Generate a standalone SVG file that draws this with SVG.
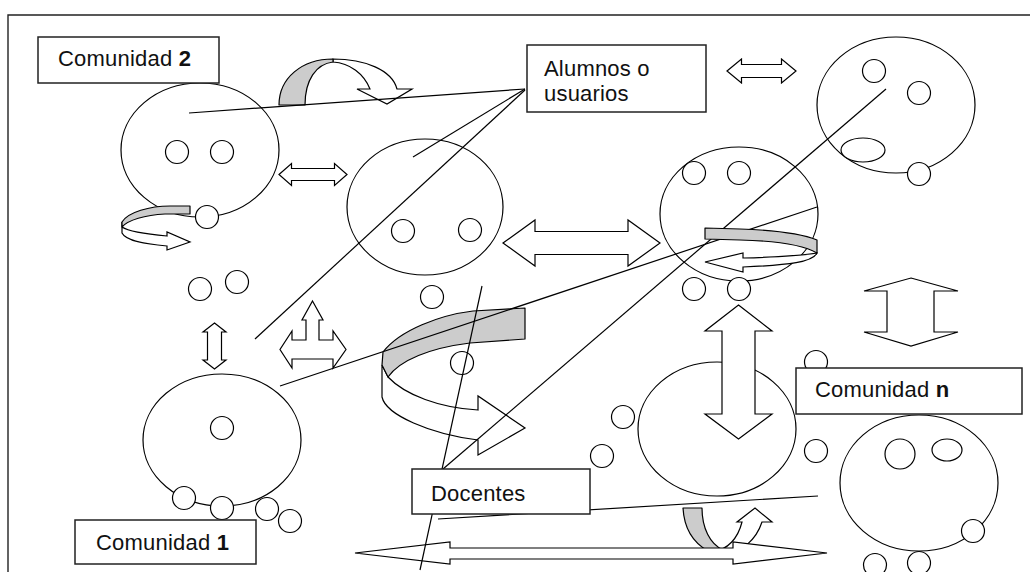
<svg xmlns="http://www.w3.org/2000/svg" width="1030" height="572" viewBox="0 0 1030 572">
  <style>
    .frame { stroke: #222; stroke-width: 1.4; fill: none; }
    .sh { fill: #fff; stroke: #000; stroke-width: 1.2; }
    .gr { fill: #ccc; stroke: #000; stroke-width: 1.2; stroke-linejoin: round; }
    .ln { stroke: #000; stroke-width: 1.2; fill: none; }
    .box { fill: #fff; stroke: #222; stroke-width: 1.5; }
    .lbl { font-family: "Liberation Sans", Arial, sans-serif; font-size: 22px; fill: #111; letter-spacing: 0.2px; }
  </style>
  <rect width="1030" height="572" fill="#fff"/>

  <!-- page frame -->
  <path class="frame" d="M8,572 L8,15 L1030,15"/>

  <!-- community circles -->
  <g id="comunidad-2-circle"><ellipse class="sh" cx="200" cy="150" rx="79" ry="67"/></g>
  <g id="grupo-centro-circle"><ellipse class="sh" cx="425" cy="207" rx="78" ry="68"/></g>
  <g id="grupo-derecha-circle"><ellipse class="sh" cx="739" cy="214" rx="79" ry="67"/></g>
  <g id="grupo-arriba-circle"><ellipse class="sh" cx="896" cy="105" rx="79" ry="68"/></g>
  <g id="comunidad-1-circle"><ellipse class="sh" cx="222" cy="440" rx="79" ry="66"/></g>
  <g id="comunidad-n-circle"><ellipse class="sh" cx="717" cy="429" rx="79" ry="67"/></g>
  <g id="grupo-abajo-circle"><ellipse class="sh" cx="919" cy="483" rx="79" ry="68"/></g>

  <!-- curved ribbon arrows -->
  <g id="curved-arrow-top">
    <path class="sh" d="M333,59 C365,59 392,70 397,89 L412,89 L387,104 L357,89 L370,89 C364,74 350,63 333,62 Z"/>
    <path class="gr" d="M279,105 C279,78 302,59 333,59 L333,62 C316,64 305,80 305,105 Z"/>
  </g>
  <g id="curved-arrow-left">
    <path class="sh" d="M122,222 L122,233 C126,241 145,244 167,246 L167,250 L190,242 L167,232 L167,236 C145,234 128,231 122,227 Z"/>
    <path class="gr" d="M190,206 L190,214 L165,214 C145,215 128,220 122,227 L122,222 C128,212 150,206 170,206 Z"/>
  </g>
  <g id="curved-arrow-center">
    <path class="sh" d="M382,365 L382,397 C386,415 430,434 478,440 L478,455 L525,428 L478,396 L478,410 C440,408 405,395 388,377 Z"/>
    <path class="gr" d="M525,308 L525,339 L470,343 C430,348 400,360 388,377 L382,365 L383,352 C400,330 440,315 473,311 Z"/>
  </g>
  <g id="curved-arrow-bottom">
    <path class="sh" d="M712,552 C728,550 738,538 742,522 L737,522 L755,508 L772,522 L762,522 C756,540 742,552 726,553 Z"/>
    <path class="gr" d="M683,508 L702,508 C702,528 710,544 723,550 L708,551 C692,542 684,526 683,508 Z"/>
  </g>

  <!-- block arrows -->
  <g id="arrow-c2-centro"><path class="sh" d="M279,174.5 L291.5,163.5 L291.5,168.5 L334.5,168.5 L334.5,163.5 L347,174.5 L334.5,185.5 L334.5,180.5 L291.5,180.5 L291.5,185.5 Z"/></g>
  <g id="arrow-arriba"><path class="sh" d="M727,71 L741.5,59 L741.5,64.5 L781.5,64.5 L781.5,59 L796,71 L781.5,83 L781.5,77.5 L741.5,77.5 L741.5,83 Z"/></g>
  <g id="arrow-centro"><path class="sh" d="M503,243 L535,220 L535,231.5 L628,231.5 L628,220 L660,243 L628,266 L628,254.5 L535,254.5 L535,266 Z"/></g>
  <g id="arrow-vertical-small"><path class="sh" d="M214.5,323 L226,332 L221.5,332 L221.5,360 L226,360 L214.5,369 L203,360 L207.5,360 L207.5,332 L203,332 Z"/></g>
  <g id="arrow-three-way"><path class="sh" d="M312.5,301 L323,320 L319,320 L319,340 L333,340 L333,331 L346,349.5 L333,368 L333,359 L292,359 L292,368 L280,349.5 L292,331 L292,340 L306,340 L306,320 L302,320 Z"/></g>
  <g id="arrow-vertical-big"><path class="sh" d="M738.5,305 L772,331 L755,331 L755,414 L772,414 L738.5,439 L705,414 L722,414 L722,331 L705,331 Z"/></g>
  <g id="arrow-vertical-right"><path class="sh" d="M911,278 L958,291 L934,291 L934,332 L958,332 L911,346 L864,332 L887,332 L887,291 L864,291 Z"/></g>
  <g id="arrow-bottom-long"><path class="sh" d="M355,553 L450,542 L450,548 L733,548 L733,542 L827,553 L733,564 L733,559 L450,559 L450,564 Z"/></g>

  <!-- members (small circles) -->
  <g id="members">
    <circle class="sh" cx="177" cy="152" r="11.5"/>
    <circle class="sh" cx="222" cy="152" r="11.5"/>
    <circle class="sh" cx="207" cy="217" r="11.5"/>
    <circle class="sh" cx="200" cy="289" r="11.5"/>
    <circle class="sh" cx="237" cy="282" r="11.5"/>
    <circle class="sh" cx="403" cy="231" r="11.5"/>
    <circle class="sh" cx="470" cy="230" r="11.5"/>
    <circle class="sh" cx="432" cy="297" r="11.5"/>
    <circle class="sh" cx="462" cy="363" r="11.5"/>
    <circle class="sh" cx="694" cy="173" r="11.5"/>
    <circle class="sh" cx="739" cy="173" r="11.5"/>
    <circle class="sh" cx="694" cy="289" r="11.5"/>
    <circle class="sh" cx="739" cy="289" r="11.5"/>
    <circle class="sh" cx="874" cy="71" r="11.5"/>
    <circle class="sh" cx="919" cy="93" r="11.5"/>
    <ellipse class="sh" cx="863" cy="150" rx="22" ry="12"/>
    <circle class="sh" cx="919" cy="174" r="11.5"/>
    <circle class="sh" cx="222" cy="428" r="11.5"/>
    <circle class="sh" cx="184" cy="498" r="11.5"/>
    <circle class="sh" cx="222" cy="508" r="11.5"/>
    <circle class="sh" cx="267" cy="509" r="11.5"/>
    <circle class="sh" cx="290" cy="521" r="11.5"/>
    <circle class="sh" cx="816" cy="362" r="11.5"/>
    <circle class="sh" cx="623" cy="417" r="11.5"/>
    <circle class="sh" cx="602" cy="456" r="11.5"/>
    <circle class="sh" cx="816" cy="451" r="11.5"/>
    <circle class="sh" cx="900" cy="454" r="15"/>
    <ellipse class="sh" cx="947" cy="450" rx="15" ry="11"/>
    <circle class="sh" cx="973" cy="531" r="11.5"/>
    <circle class="sh" cx="875" cy="565" r="11.5"/>
    <circle class="sh" cx="919" cy="563" r="11.5"/>
  </g>

  <!-- connector lines -->
  <g id="connectors">
    <line class="ln" x1="189" y1="113" x2="525" y2="89"/>
    <line class="ln" x1="413" y1="157" x2="525" y2="89"/>
    <line class="ln" x1="255" y1="339" x2="525" y2="90"/>
    <line class="ln" x1="280" y1="386" x2="817" y2="207"/>
    <line class="ln" x1="443" y1="469" x2="886" y2="89"/>
    <line class="ln" x1="482" y1="286" x2="420" y2="570"/>
    <line class="ln" x1="438" y1="519" x2="818" y2="496"/>
  </g>

  <!-- ribbon arrow inside the right group -->
  <g id="curved-arrow-right">
    <path class="sh" d="M817,253 C813,262 790,265 743,267 L743,272 L705,262 L743,253 L743,258 C780,257 805,255 817,253 Z"/>
    <path class="gr" d="M705,228 L705,239 L740,240 C780,241 805,246 817,253 L817,240 C800,233 770,230 740,229 Z"/>
  </g>

  <!-- labels -->
  <g id="label-comunidad-2">
    <rect class="box" x="38" y="37" width="181" height="46"/>
    <text class="lbl" x="58" y="66">Comunidad <tspan font-weight="bold">2</tspan></text>
  </g>
  <g id="label-alumnos">
    <rect class="box" x="527" y="45" width="179" height="67"/>
    <text class="lbl" x="544" y="76">Alumnos o</text>
    <text class="lbl" x="544" y="101">usuarios</text>
  </g>
  <g id="label-comunidad-n">
    <rect class="box" x="796" y="368" width="226" height="46"/>
    <text class="lbl" x="815" y="397">Comunidad <tspan font-weight="bold">n</tspan></text>
  </g>
  <g id="label-docentes">
    <rect class="box" x="412" y="469" width="178" height="45"/>
    <text class="lbl" x="431" y="501">Docentes</text>
  </g>
  <g id="label-comunidad-1">
    <rect class="box" x="75" y="520" width="181" height="44"/>
    <text class="lbl" x="96" y="550">Comunidad <tspan font-weight="bold">1</tspan></text>
  </g>
</svg>
